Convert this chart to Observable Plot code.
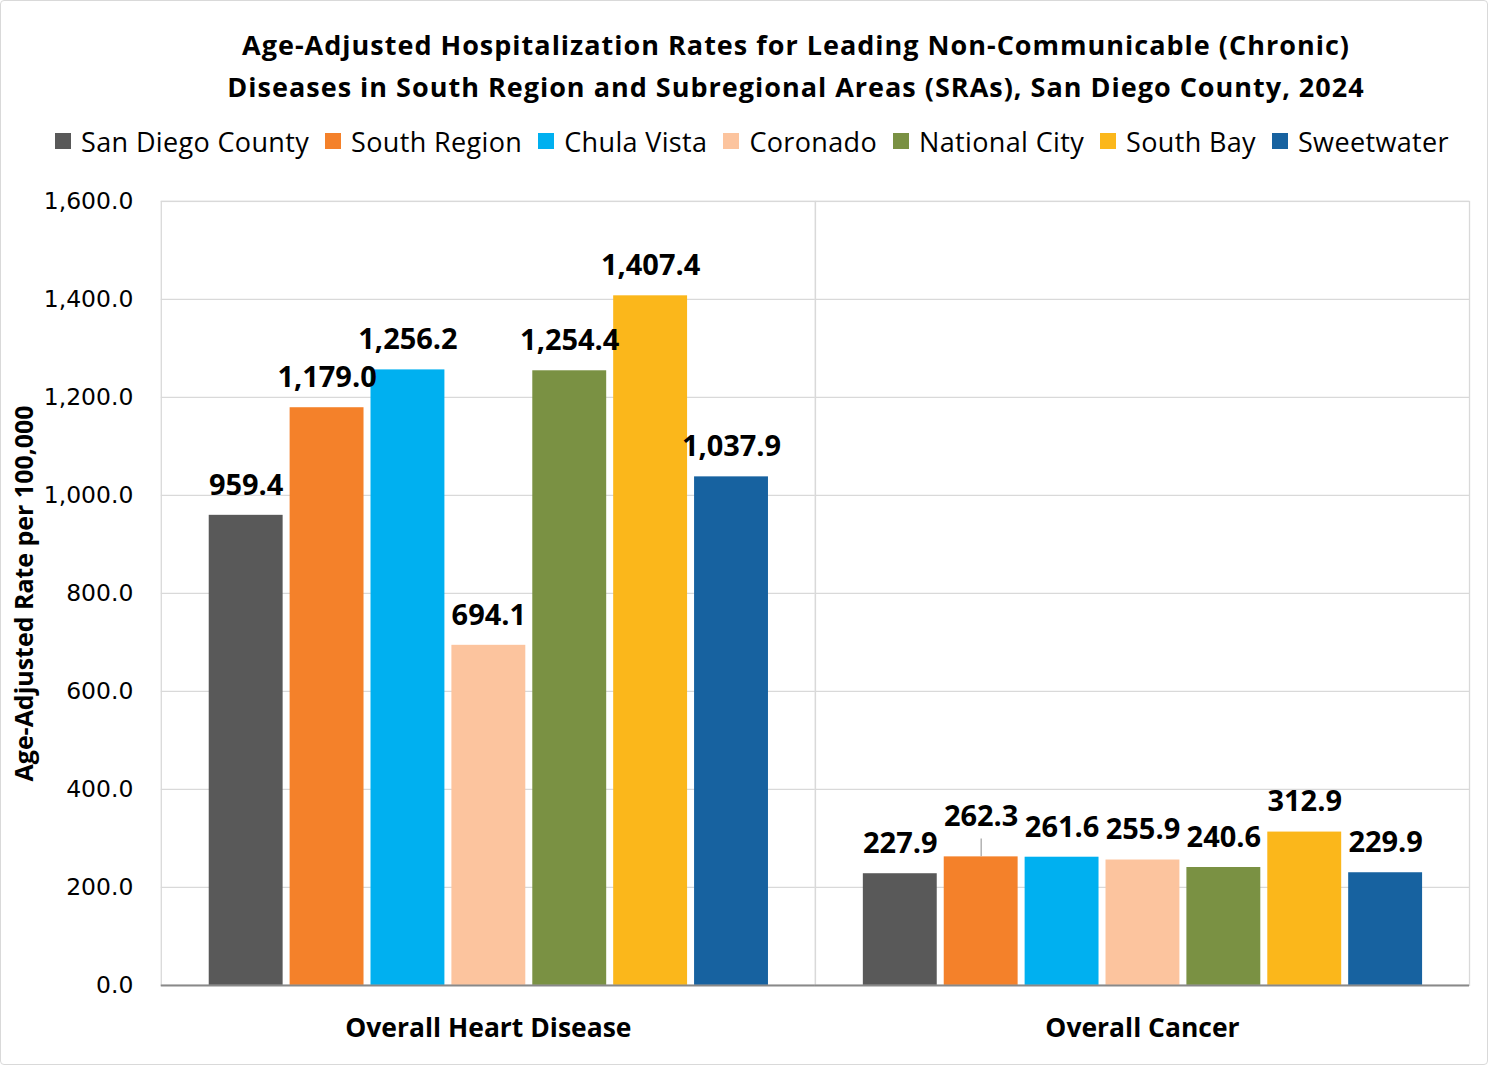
<!DOCTYPE html>
<html>
<head>
<meta charset="utf-8">
<script src="https://cdn.jsdelivr.net/npm/d3@7"></script>
<script src="https://cdn.jsdelivr.net/npm/@observablehq/plot@0.6"></script>
<style>
  html, body { margin: 0; padding: 0; background: #fff; }
  #chart {
    width: 1486px; height: 1063px; border: 1px solid #d9d9d9; border-radius: 4px;
    position: relative; overflow: hidden; background: #fff;
  }
  #title {
    position: absolute; left: 104px; top: 23px; width: 1382px; text-align: center;
    font-family: "Open Sans", sans-serif; font-weight: 700; font-size: 27px; letter-spacing: 1px; line-height: 42px; color: #000;
  }
  #legend {
    position: absolute; left: 16px; top: 123px; width: 1470px; height: 34px;
    display: flex; justify-content: center; align-items: center; gap: 16px;
    font-family: "Open Sans", sans-serif; font-size: 27px; letter-spacing: 0.35px; color: #000;
  }
  #legend .item { display: flex; align-items: center; gap: 10px; white-space: nowrap; }
  #legend .sw { width: 16px; height: 16px; display: inline-block; }
  #plot { position: absolute; left: 0; top: 164px; }
</style>
</head>
<body>
<div id="chart">
  <div id="title">Age-Adjusted Hospitalization Rates for Leading Non-Communicable (Chronic)<br>Diseases in South Region and Subregional Areas (SRAs), San Diego County, 2024</div>
  <div id="legend"></div>
  <div id="plot"></div>
</div>
<script>
const categories = ["Overall Heart Disease", "Overall Cancer"];
const areas = ["San Diego County", "South Region", "Chula Vista", "Coronado", "National City", "South Bay", "Sweetwater"];
const heartDisease = [959.4, 1179.0, 1256.2, 694.1, 1254.4, 1407.4, 1037.9];
const cancer = [227.9, 262.3, 261.6, 255.9, 240.6, 312.9, 229.9];
const yTicks = [0, 200, 400, 600, 800, 1000, 1200, 1400, 1600];
const colors = ["#595959", "#F4812A", "#00B0F0", "#FCC49E", "#7A9143", "#FBB71B", "#1762A0"];
const yLabel = "Age-Adjusted Rate per 100,000";

const seriesByCategory = [heartDisease, cancer];
const data = [];
categories.forEach((c, ci) => areas.forEach((a, ai) => data.push({category: c, area: a, value: seriesByCategory[ci][ai]})));

// legend
const legend = document.getElementById("legend");
areas.forEach((a, i) => {
  const it = document.createElement("span");
  it.className = "item";
  it.innerHTML = `<span class="sw" style="background:${colors[i]}"></span><span>${a}</span>`;
  legend.appendChild(it);
});

const W = 1488, H = 900, mT = 36, mB = 79;
const plotH = H - mT - mB;
const fmt = d3.format(",.1f");
const leaderKey = "Overall Cancer|South Region";
const isLeader = d => d.category + "|" + d.area === leaderKey;
const leaderUnits = 18 * 1600 / plotH;

const chart = Plot.plot({
  width: W, height: H,
  marginLeft: 160, marginRight: 18, marginTop: mT, marginBottom: mB,
  style: {fontFamily: "DejaVu Sans, sans-serif", fontSize: "22px", color: "#000", background: "transparent"},
  fx: {domain: categories, padding: 0, label: null},
  x: {domain: areas, axis: null, paddingInner: 0.09, paddingOuter: 0.57},
  y: {domain: [0, 1600]},
  color: {domain: areas, range: colors},
  marks: [
    Plot.ruleY(yTicks, {stroke: "#d9d9d9", strokeWidth: 1.3}),
    Plot.frame({stroke: "#d9d9d9", strokeWidth: 1.3}),
    Plot.barY(data, {fx: "category", x: "area", y: "value", fill: "area"}),
    Plot.ruleY([0], {stroke: "#898989", strokeWidth: 2}),
    Plot.ruleX(data.filter(isLeader), {fx: "category", x: "area", y1: "value", y2: d => d.value + leaderUnits, stroke: "#a6a6a6", strokeWidth: 1.3}),
    Plot.text(data.filter(d => !isLeader(d)), {fx: "category", x: "area", y: "value", text: d => fmt(d.value), dy: -30,
      fontFamily: "Open Sans, sans-serif", fontWeight: 700, fontSize: 29, fill: "#000"}),
    Plot.text(data.filter(isLeader), {fx: "category", x: "area", y: "value", text: d => fmt(d.value), dy: -40,
      fontFamily: "Open Sans, sans-serif", fontWeight: 700, fontSize: 29, fill: "#000"}),
    Plot.axisY({ticks: yTicks, tickFormat: fmt, tickSize: 0, tickPadding: 28, label: yLabel, labelAnchor: "center", labelArrow: "none", labelOffset: 146,
      fontSize: 23.5, fontFamily: "DejaVu Sans, sans-serif", fill: "#000"}),
    Plot.axisFx({anchor: "bottom", tickSize: 0, tickPadding: 33, label: null,
      fontSize: 26.5, fontWeight: 700, fontFamily: "Open Sans, sans-serif", fill: "#000"})
  ]
});
document.getElementById("plot").appendChild(chart);
d3.select(chart).selectAll('[aria-label="y-axis label"] text')
  .attr("font-weight", 700).attr("font-family", "Open Sans, sans-serif").attr("font-size", 25);
</script>
</body>
</html>
